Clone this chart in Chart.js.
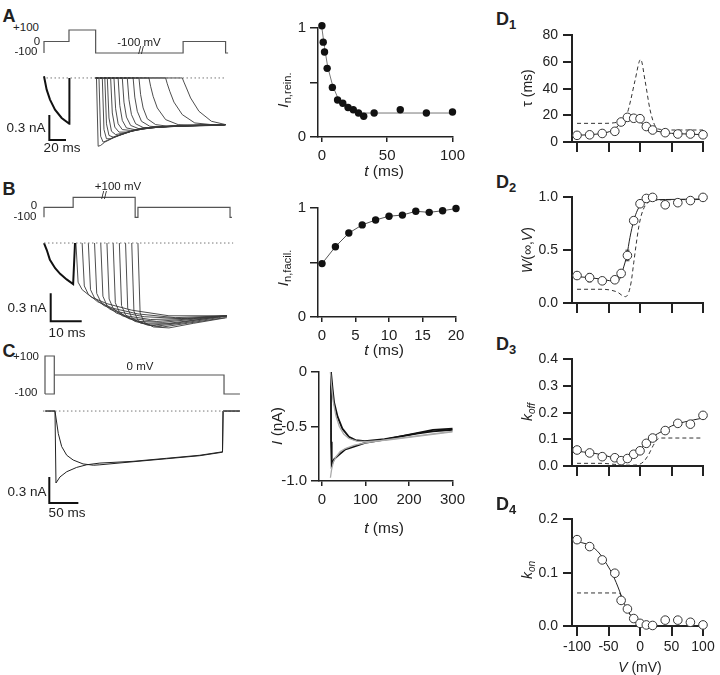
<!DOCTYPE html>
<html>
<head>
<meta charset="utf-8">
<script src="https://cdn.jsdelivr.net/npm/chart.js@4.4.0/dist/chart.umd.min.js"></script>
<style>
body{margin:0;background:#fff;width:720px;height:675px;position:relative;overflow:hidden;font-family:"Liberation Sans",Arial,sans-serif;color:#222}
canvas{position:absolute}
.l{position:absolute;transform:translate(-50%,-50%);white-space:nowrap;line-height:1}
.r{position:absolute;transform:translate(-50%,-50%) rotate(-90deg);white-space:nowrap;line-height:1}
.big{font-weight:bold;font-size:18px}
sub{font-size:72%;vertical-align:baseline;position:relative;top:0.3em}
.p{font-size:11.5px}
.s{font-size:13.5px}
.ax{font-size:15.5px}
.dax{font-size:14px}
</style>
</head>
<body>
<!-- left column: protocols and current traces -->
<canvas id="trA" width="195" height="140" style="left:40px;top:20px"></canvas>
<canvas id="trB" width="195" height="150" style="left:40px;top:185px"></canvas>
<canvas id="trC" width="200" height="165" style="left:40px;top:350px"></canvas>
<!-- middle column -->
<canvas id="mid1" width="200" height="165" style="left:270px;top:15px"></canvas>
<canvas id="mid2" width="200" height="165" style="left:270px;top:195px"></canvas>
<canvas id="mid3" width="200" height="166" style="left:270px;top:359px"></canvas>
<!-- right column -->
<canvas id="d1" width="200" height="134" style="left:520px;top:22px"></canvas>
<canvas id="d2" width="200" height="133" style="left:520px;top:184px"></canvas>
<canvas id="d3" width="200" height="134" style="left:520px;top:346px"></canvas>
<canvas id="d4" width="200" height="155" style="left:520px;top:506px"></canvas>

<div class="l big" style="left:9px;top:16px">A</div>
<div class="l big" style="left:9px;top:189px">B</div>
<div class="l big" style="left:9px;top:351px">C</div>
<div class="l big" style="left:506px;top:19px">D<sub>1</sub></div>
<div class="l big" style="left:506px;top:182px">D<sub>2</sub></div>
<div class="l big" style="left:506px;top:344px">D<sub>3</sub></div>
<div class="l big" style="left:506px;top:504px">D<sub>4</sub></div>

<div class="l p" style="left:26px;top:28px">+100</div>
<div class="l p" style="left:37px;top:42px">0</div>
<div class="l p" style="left:26px;top:52px">-100</div>
<div class="l p" style="left:139px;top:43px">-100 mV</div>
<div class="l p" style="left:141px;top:51px;font-size:10px">//</div>
<div class="l s" style="left:26px;top:128px">0.3 nA</div>
<div class="l s" style="left:62px;top:148px">20 ms</div>

<div class="l p" style="left:118px;top:187px">+100 mV</div>
<div class="l p" style="left:104px;top:196px;font-size:10px">//</div>
<div class="l p" style="left:34px;top:206px">0</div>
<div class="l p" style="left:25px;top:217px">-100</div>
<div class="l s" style="left:27px;top:308px">0.3 nA</div>
<div class="l s" style="left:67px;top:333px">10 ms</div>

<div class="l p" style="left:26px;top:357px">+100</div>
<div class="l p" style="left:26px;top:393px">-100</div>
<div class="l p" style="left:140px;top:367px">0 mV</div>
<div class="l s" style="left:27px;top:492px">0.3 nA</div>
<div class="l s" style="left:67px;top:513px">50 ms</div>

<div class="r ax" style="left:283px;top:90px"><i>I</i><sub>n,rein.</sub></div>
<div class="l ax" style="left:384px;top:171px"><i>t</i> (ms)</div>
<div class="r ax" style="left:283px;top:268px"><i>I</i><sub>n,facil.</sub></div>
<div class="l ax" style="left:384px;top:350px"><i>t</i> (ms)</div>
<div class="r ax" style="left:277px;top:426px"><i>I</i> (nA)</div>
<div class="l ax" style="left:384px;top:528px"><i>t</i> (ms)</div>

<div class="r dax" style="left:527px;top:88px">τ (ms)</div>
<div class="r dax" style="left:527px;top:250px"><i>W</i>(∞,<i>V</i>)</div>
<div class="r dax" style="left:527px;top:412px"><i>k</i><sub><i>off</i></sub></div>
<div class="r dax" style="left:527px;top:570px"><i>k</i><sub><i>on</i></sub></div>
<div class="l dax" style="left:640px;top:667px"><i>V</i> (mV)</div>

<script>
// ---- data ----
// A: voltage protocol (ms, mV) and currents (ms, nA)
const protoA = [[0,-100],[0,0],[30,0],[30,100],[62,100],[62,-100],[167,-100],[167,0],[218,0],[218,-100],[221,-100]];
const preA = [[0,0.02],[3.2,-0.14],[7.2,-0.26],[13.2,-0.38],[21.2,-0.48],[30.4,-0.55],[30.5,0]];
const aStarts = [63, 66, 70, 73, 76, 80, 84, 89, 94, 100, 107, 114, 126, 146, 166];
const aOffsets = [0, 2, 5, 10, 20, 35, 55, 90, 155];
const aTraces = [
  [0,-0.82,-0.81,-0.77,-0.72,-0.66,-0.60,-0.58,-0.56],
  [0,-0.70,-0.77,-0.75,-0.70,-0.65,-0.60,-0.58,-0.56],
  [0,-0.62,-0.73,-0.73,-0.69,-0.64,-0.60,-0.58,-0.56],
  [0,-0.55,-0.69,-0.71,-0.68,-0.63,-0.60,-0.57,-0.56],
  [0,-0.48,-0.64,-0.68,-0.66,-0.62,-0.59,-0.57,-0.56],
  [0,-0.42,-0.59,-0.65,-0.65,-0.62,-0.59,-0.57,-0.56],
  [0,-0.37,-0.55,-0.62,-0.63,-0.61,-0.59,-0.57,-0.56],
  [0,-0.33,-0.51,-0.60,-0.62,-0.60,-0.58,-0.57,-0.56],
  [0,-0.29,-0.47,-0.57,-0.61,-0.60,-0.58,-0.57,-0.56],
  [0,-0.26,-0.44,-0.55,-0.60,-0.59,-0.58,-0.57,-0.56],
  [0,-0.23,-0.40,-0.52,-0.58,-0.59,-0.58,-0.57,-0.56],
  [0,-0.20,-0.36,-0.49,-0.56,-0.58,-0.58,-0.57,-0.56],
  [0,-0.10,-0.22,-0.36,-0.50,-0.56,-0.57,-0.57,-0.56],
  [0,-0.07,-0.16,-0.29,-0.44,-0.54,-0.56,-0.56,-0.56],
  [0,-0.05,-0.12,-0.24,-0.40,-0.52,-0.56,-0.56,-0.56]
];
const barA = [[6.4,-0.444],[6.4,-0.744],[26.4,-0.744]];

// B
const protoB = [[0,-100],[0,0],[9.4,0],[9.4,100],[29.4,100],[29.4,-100],[30.3,-100],[30.3,0],[60,0],[60,-100],[60.6,-100]];
const preB = [[0,0],[0.9,-0.075],[1.9,-0.18],[3.6,-0.27],[5.2,-0.33],[7.3,-0.39],[9.4,-0.44],[10,0]];
const bStarts = [10.3, 12.3, 14.3, 16.3, 18.3, 20.3, 22.3, 24.3, 26.3, 28.3, 30.3];
const bOffsets = [0, 0.7, 2, 5, 10, 18, 30, 48];
const bTraces = [
  [0,-0.42,-0.50,-0.58,-0.65,-0.72,-0.78,-0.78],
  [0,-0.46,-0.55,-0.63,-0.70,-0.76,-0.80,-0.78],
  [0,-0.50,-0.59,-0.67,-0.74,-0.79,-0.81,-0.78],
  [0,-0.54,-0.63,-0.71,-0.78,-0.82,-0.81,-0.78],
  [0,-0.57,-0.67,-0.75,-0.81,-0.84,-0.81,-0.78],
  [0,-0.60,-0.70,-0.78,-0.84,-0.85,-0.81,-0.78],
  [0,-0.64,-0.74,-0.81,-0.86,-0.86,-0.81,-0.78],
  [0,-0.67,-0.77,-0.84,-0.88,-0.86,-0.80,-0.78],
  [0,-0.70,-0.80,-0.86,-0.89,-0.86,-0.80,-0.78],
  [0,-0.73,-0.83,-0.88,-0.90,-0.86,-0.80,-0.78],
  [0,-0.75,-0.85,-0.90,-0.91,-0.86,-0.80,-0.78]
];
const barB = [[2.16,-0.539],[2.16,-0.839],[12.16,-0.839]];

// C
const protoC = [[-15.5,-100],[-15.5,100],[0.5,100],[0.5,-100],[-15.5,-100],[0.5,null],[0.5,0],[292.6,0],[292.6,-100],[320,-100]];
const deepC = [[-15,0],[1.7,0],[3.4,-0.83],[10.3,-0.76],[21.9,-0.70],[39,-0.65],[56,-0.62],[79,-0.60],[136,-0.58],[194,-0.545],[251,-0.51],[290,-0.47],[291,0],[320,0]];
const slowC = [[-15,0],[1.7,0],[7.4,-0.26],[13.2,-0.41],[21.9,-0.51],[33,-0.565],[50,-0.61],[68,-0.625],[79,-0.62],[136,-0.585],[194,-0.55],[251,-0.515],[290,-0.475],[291,0],[320,0]];
const barC = [[-8.1,-0.761],[-8.1,-1.061],[41.9,-1.061]];

// middle column
const reinT = [0,1,2,4,8,12,16,20,24,28,32,40,60,80,100];
const reinI = [1.02,0.87,0.78,0.63,0.455,0.34,0.31,0.27,0.25,0.22,0.19,0.22,0.25,0.22,0.23];
const reinFit = [[0,1.0],[2,0.82],[4.5,0.64],[8.25,0.47],[12.5,0.35],[16,0.3],[20.75,0.27],[25,0.24],[30.75,0.22],[40.75,0.22],[100,0.22]];
const facilT = [0,2,4,6,8,10,12,14,16,18,20];
const facilI = [0.49,0.645,0.77,0.845,0.89,0.925,0.935,0.97,0.96,0.975,0.995];
const iDeep = [[20.8,0],[21,-0.64],[22,-0.87],[23,-0.85],[28,-0.80],[39,-0.76],[54,-0.71],[77,-0.68],[99,-0.65],[144,-0.62],[181,-0.59],[218,-0.56],[255,-0.53],[300,-0.52]];
const iSlow = [[20.8,0],[24.6,-0.16],[28,-0.28],[36,-0.41],[47,-0.52],[62,-0.595],[77,-0.625],[99,-0.635],[144,-0.615],[181,-0.59],[218,-0.565],[255,-0.545],[300,-0.53]];
const fitDeep = [[19.5,-0.97],[22,-0.9],[26,-0.83],[32,-0.78],[42,-0.73],[55,-0.7],[75,-0.67],[100,-0.65],[150,-0.62],[200,-0.595],[250,-0.57],[300,-0.545]];
const fitSlow = [[19.5,0],[22,-0.12],[26,-0.27],[32,-0.4],[40,-0.5],[50,-0.57],[62,-0.61],[80,-0.635],[100,-0.64],[150,-0.625],[200,-0.6],[250,-0.575],[300,-0.55]];

// right column (V in mV)
const dV = [-100,-80,-60,-40,-30,-20,-10,0,10,20,40,60,80,100];
const tauD = [5,5.4,6.4,8,15,18.5,17.8,17.5,11.6,9,7,6,6,5.4];
const tauFit = [[-100,5],[-80,5.5],[-60,6.5],[-45,8.5],[-35,12],[-28,15.5],[-20,17.5],[-12,17.5],[-5,16.5],[3,14],[10,11.5],[20,9],[30,7.8],[50,6.5],[75,6],[100,5.5]];
const tauModel = [[-100,14],[-60,14],[-40,14.5],[-30,16],[-24,19],[-20,22],[-15,31],[-8,46],[1,62],[8,46],[16,24],[24,12],[32,9.5],[50,9],[100,9]];
const wD = [0.26,0.24,0.21,0.22,0.28,0.45,0.78,0.94,0.99,1.0,0.93,0.95,0.97,1.0];
const wErr = [0.02,0.04,0.02,0.02,0.03,0.05,0.03,0.02,0.01,0.01,0.03,0.02,0.01,0.01];
const wFit = [[-100,0.25],[-80,0.24],[-60,0.225],[-45,0.21],[-38,0.21],[-32,0.23],[-27,0.32],[-21,0.45],[-16,0.62],[-10,0.78],[-4,0.88],[0,0.92],[10,0.96],[20,0.975],[40,0.98],[100,0.985]];
const wModel = [[-100,0.13],[-60,0.13],[-45,0.12],[-35,0.1],[-28,0.07],[-23,0.06],[-18,0.1],[-14,0.2],[-10,0.38],[-6,0.56],[-2,0.72],[2,0.83],[8,0.92],[15,0.96],[30,0.975],[100,0.98]];
const koffD = [0.06,0.049,0.035,0.031,0.02,0.028,0.044,0.057,0.085,0.105,0.133,0.16,0.157,0.19];
const koffFit = [[-100,0.055],[-80,0.05],[-60,0.042],[-45,0.032],[-35,0.022],[-28,0.018],[-20,0.025],[-10,0.04],[0,0.06],[10,0.09],[20,0.11],[35,0.13],[50,0.15],[70,0.165],[100,0.18]];
const koffModel = [[-100,0.01],[-60,0.01],[-40,0.006],[-20,0.003],[-5,0.004],[5,0.015],[13,0.04],[21,0.077],[26,0.095],[32,0.105],[100,0.105]];
const konD = [0.162,0.149,0.124,0.099,0.048,0.032,0.014,0.005,0.002,0.001,0.011,0.011,0.007,0.002];
const konFit = [[-100,0.158],[-85,0.154],[-75,0.148],[-65,0.137],[-55,0.12],[-45,0.1],[-38,0.082],[-32,0.064],[-26,0.045],[-20,0.03],[-12,0.015],[-4,0.006],[5,0.002],[20,0.0005],[100,0]];
const konModel = [[-100,0.062],[-33,0.062],[-28,0.05],[-22,0.035],[-15,0.02],[-8,0.009],[0,0.003],[15,0.001],[100,0]];

// ---- helpers ----
Chart.defaults.font.family = '"Liberation Sans", Arial, sans-serif';
Chart.defaults.color = '#222';

const P = a => a.map(([x, y]) => ({x, y}));
const zip = (xs, ys) => xs.map((x, i) => ({x, y: ys[i]}));

function ln(data, o) {
  return Object.assign({data, borderColor: '#333', borderWidth: 1, pointRadius: 0, fill: false, clip: false, tension: 0}, o || {});
}
function dots(data, o) {
  return ln(data, Object.assign({showLine: false, pointRadius: 3.7, pointBackgroundColor: '#111', pointBorderColor: '#111', pointBorderWidth: 0}, o || {}));
}
function rings(data) {
  return ln(data, {showLine: false, pointRadius: 4.3, pointBackgroundColor: '#fff', pointBorderColor: '#333', pointBorderWidth: 1});
}

// builds one current trace from a step time, offsets and read values
function stepTrace(start, offsets, vals, end, t0) {
  const pts = [{x: t0, y: 0}];
  for (let i = 0; i < offsets.length; i++) {
    const t = start + offsets[i];
    if (t >= end) { pts.push({x: end, y: vals[i]}); break; }
    pts.push({x: t, y: vals[i]});
  }
  return pts;
}

function traceChart(id, xr, yr, vr, datasets) {
  new Chart(document.getElementById(id), {
    type: 'line',
    data: {datasets},
    options: {
      responsive: false, animation: false,
      layout: {padding: 0},
      plugins: {legend: {display: false}, tooltip: {enabled: false}},
      scales: {
        x: {type: 'linear', display: false, min: xr[0], max: xr[1]},
        y: {type: 'linear', display: false, min: yr[0], max: yr[1]},
        yV: {type: 'linear', display: false, min: vr[0], max: vr[1]}
      }
    }
  });
}

function axis(o) {
  return {
    type: 'linear', min: o.min, max: o.max,
    border: {display: true, color: '#222', width: o.bw},
    grid: {drawOnChartArea: false, drawTicks: true, tickLength: o.tl, color: '#222', lineWidth: o.bw},
    ticks: {display: o.labels !== false, font: {size: o.fs}, color: '#222', padding: o.pad, maxRotation: 0,
            callback: o.cb || (v => v)},
    afterBuildTicks: s => { s.ticks = o.ticks.map(v => ({value: v})); },
    afterFit: s => { if (o.w != null) s.width = o.w; if (o.h != null) s.height = o.h; }
  };
}

const errorBars = {
  id: 'errorBars',
  beforeDatasetsDraw(chart, args, opts) {
    if (!opts || !opts.err) return;
    const {ctx} = chart, x = chart.scales.x, y = chart.scales.y;
    ctx.save();
    ctx.strokeStyle = '#333';
    ctx.lineWidth = 1;
    opts.err.forEach((e, i) => {
      const px = x.getPixelForValue(opts.xs[i]);
      ctx.beginPath();
      ctx.moveTo(px, y.getPixelForValue(opts.ys[i] - e));
      ctx.lineTo(px, y.getPixelForValue(opts.ys[i] + e));
      ctx.stroke();
      [opts.ys[i] - e, opts.ys[i] + e].forEach(v => {
        const py = y.getPixelForValue(v);
        ctx.beginPath(); ctx.moveTo(px - 2, py); ctx.lineTo(px + 2, py); ctx.stroke();
      });
    });
    ctx.restore();
  }
};

function axisChart(id, pad, x, y, datasets, err) {
  new Chart(document.getElementById(id), {
    type: 'line',
    data: {datasets},
    options: {
      responsive: false, animation: false,
      layout: {padding: pad},
      plugins: {legend: {display: false}, tooltip: {enabled: false}, errorBars: err || {}},
      scales: {x, y}
    },
    plugins: [errorBars]
  });
}

// ---- left column traces ----
const traceStyle = {borderColor: '#3a3a3a', borderWidth: 0.9};
const protoStyle = {yAxisID: 'yV', borderColor: '#555', borderWidth: 1.2};
const dotStyle = {borderColor: '#777', borderWidth: 1, borderDash: [1.5, 2.5]};
const barStyle = {borderColor: '#111', borderWidth: 2};

traceChart('trA', [-4.8, 229.3], [-0.985, 0.696], [-1030, 187], [
  ln(P(protoA), protoStyle),
  ln(P([[3, 0], [218, 0]]), dotStyle),
  ln(P(preA), {borderColor: '#111', borderWidth: 2}),
  ...aTraces.map((v, i) => ln(stepTrace(aStarts[i], aOffsets, v, 218, 62), traceStyle)),
  ln(P(barA), barStyle)
]);

traceChart('trB', [-1.29, 61.6], [-0.986, 0.622], [-1277, 223], [
  ln(P(protoB), protoStyle),
  ln(P([[0, 0], [61, 0]]), dotStyle),
  ln(P(preB), {borderColor: '#111', borderWidth: 2}),
  ...bTraces.map((v, i) => ln(stepTrace(bStarts[i], bOffsets, v, 59, bStarts[i]), traceStyle)),
  ln(P(barB), barStyle)
]);

traceChart('trC', [-24.1, 320.1], [-1.199, 0.704], [-736.8, 131.6], [
  ln(P(protoC), protoStyle),
  ln(P([[-19, 0], [320, 0]]), dotStyle),
  ln(P(deepC), {borderColor: '#222', borderWidth: 1}),
  ln(P(slowC), {borderColor: '#222', borderWidth: 1}),
  ln(P(barC), barStyle)
]);

// ---- middle column ----
const midX = (min, max, ticks) => axis({min, max, ticks, bw: 1.5, tl: 5, fs: 15, pad: 5, h: 43});
const midY = (min, max, ticks, cb, w) => axis({min, max, ticks, bw: 1.5, tl: 8, fs: 15, pad: 4, w: w || 48, cb});

axisChart('mid1', {top: 12, right: 14}, midX(-3, 100, [0, 50, 100]),
  midY(0, 1, [0, 0.5, 1], v => (v === 0.5 ? '' : v)), [
  dots(zip(reinT, reinI)),
  ln(P(reinFit), {borderColor: '#777', borderWidth: 1})
]);

axisChart('mid2', {top: 12, right: 14}, midX(-0.6, 20, [0, 5, 10, 15, 20]),
  midY(0, 1, [0, 0.5, 1], v => (v === 0.5 ? '' : v)), [
  dots(zip(facilT, facilI)),
  ln(zip(facilT, facilI), {borderColor: '#555', borderWidth: 1})
]);

axisChart('mid3', {top: 12, right: 13}, axis({min: -6.7, max: 300, ticks: [0, 100, 200, 300], bw: 1.5, tl: 5, fs: 15, pad: 5, h: 44}),
  midY(-1, 0, [-1, -0.5, 0], v => (v === 0 ? '0' : v.toFixed(1)), 49), [
  ln(P(fitDeep), {borderColor: '#aaa', borderWidth: 1.3}),
  ln(P(fitSlow), {borderColor: '#aaa', borderWidth: 1.3}),
  ln(P(iDeep), {borderColor: '#111', borderWidth: 1.8}),
  ln(P(iSlow), {borderColor: '#111', borderWidth: 1.8})
]);

// ---- right column ----
const dX = (labels, h) => axis({min: -108, max: 100, ticks: [-100, -50, 0, 50, 100], bw: 2, tl: 10, fs: 14, pad: 3, h, labels});
const dY = (max, ticks, cb) => axis({min: 0, max, ticks, bw: 2, tl: 9, fs: 14, pad: 5, w: 52, cb});
const fitStyle = {borderColor: '#222', borderWidth: 1, cubicInterpolationMode: 'monotone'};
const modelStyle = {borderColor: '#333', borderWidth: 1, borderDash: [4, 3], cubicInterpolationMode: 'monotone'};

axisChart('d1', {top: 12, right: 17}, dX(false, 14), dY(80, [0, 20, 40, 60, 80]), [
  rings(zip(dV, tauD)),
  ln(P(tauFit), fitStyle),
  ln(P(tauModel), modelStyle)
]);

axisChart('d2', {top: 12, right: 17}, dX(false, 14), dY(1, [0, 0.5, 1], v => v.toFixed(1)), [
  rings(zip(dV, wD)),
  ln(P(wFit), fitStyle),
  ln(P(wModel), modelStyle)
], {err: wErr, xs: dV, ys: wD});

axisChart('d3', {top: 12, right: 17}, dX(false, 14), dY(0.4, [0, 0.1, 0.2, 0.3, 0.4], v => v.toFixed(1)), [
  rings(zip(dV, koffD)),
  ln(P(koffFit), fitStyle),
  ln(P(koffModel), modelStyle)
]);

axisChart('d4', {top: 12, right: 17}, dX(true, 35), dY(0.2, [0, 0.1, 0.2], v => v.toFixed(1)), [
  rings(zip(dV, konD)),
  ln(P(konFit), fitStyle),
  ln(P(konModel), modelStyle)
]);
</script>
</body>
</html>
